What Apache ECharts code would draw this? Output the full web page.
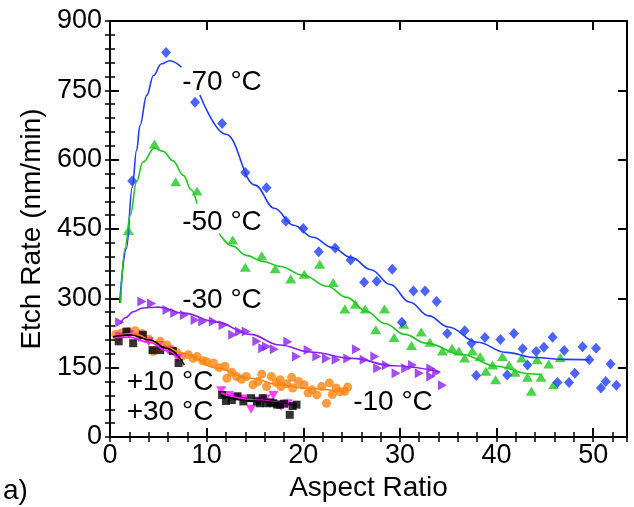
<!DOCTYPE html>
<html><head><meta charset="utf-8">
<script src="https://cdn.jsdelivr.net/npm/echarts@6/dist/echarts.min.js"></script>
<style>html,body{margin:0;padding:0;background:#fff}#c{width:634px;height:507px}</style>
</head><body><div id="c"></div>
<script>
// ---- data (Aspect Ratio, Etch Rate nm/min) ----
const xTicks = [0, 10, 20, 30, 40, 50];
const yTicks = [0, 150, 300, 450, 600, 750, 900];

const m70Points = [[2.3,554],[5.8,832],[8.8,724],[11.6,678],[14.0,572],[16.2,539],[18.2,467],[20.0,451],[21.6,401],[23.3,409],[24.9,383],[26.3,335],[27.6,337],[29.2,363],[30.2,248],[31.4,316],[32.6,316],[33.8,293],[34.9,224],[36.7,230],[37.4,203],[37.9,133],[38.8,215],[40.4,211],[41.1,134],[41.8,224],[42.7,191],[43.2,156],[44.1,185],[44.9,194],[45.8,216],[46.3,118],[47.0,187],[47.5,118],[48.1,138],[48.9,195],[49.6,167],[50.3,192],[50.8,106],[51.3,120],[51.8,158],[52.4,112]];
const m70FitA = [[1.0,290],[1.7,408],[2.3,540],[2.75,620],[3.1,674],[3.8,739],[4.5,782],[5.3,807],[6.2,814],[7.4,800]];
const m70FitB = [[9.3,740],[12.0,655],[15.0,545],[17.0,495],[19.0,458],[21.0,432],[23.0,410],[25.0,388],[27.0,362],[29.0,330],[31.0,292],[33.0,262],[35.0,238],[38.0,205],[41.0,183],[44.0,172],[47.0,168],[49.6,167]];

const m50Points = [[1.9,447],[4.6,634],[6.8,552],[9.0,532],[12.7,426],[14.0,367],[15.7,392],[17.1,364],[18.7,342],[20.1,352],[21.7,374],[23.1,334],[24.3,277],[25.4,287],[26.4,277],[27.5,232],[28.4,277],[29.4,215],[30.4,244],[31.2,198],[32.2,227],[33.1,205],[34.4,186],[35.4,192],[36.1,186],[36.7,171],[37.5,186],[38.3,174],[38.9,142],[39.6,156],[39.9,124],[40.6,174],[41.3,156],[41.9,140],[42.6,171],[43.2,129],[43.6,99],[44.2,167],[44.6,129],[45.4,158],[45.9,113],[46.6,172]];
const m50FitA = [[1.1,290],[1.55,408],[2.1,480],[2.75,552],[3.4,595],[4.6,625],[5.5,618],[6.5,598],[7.6,566],[8.4,535],[9.0,505]];
const m50FitB = [[11.3,440],[12.7,413],[14.1,393],[15.8,380],[17.6,369],[20.0,350],[22.5,326],[24.5,302],[26.5,272],[28.5,245],[30.5,222],[32.7,203],[36.5,178],[40.0,153],[43.4,137],[44.7,135]];

const m30Points = [[1.0,248],[3.3,293],[4.3,289],[5.9,275],[6.7,268],[7.7,264],[8.8,253],[9.6,250],[10.7,250],[11.7,242],[12.7,221],[13.4,228],[14.1,228],[15.2,207],[15.8,192],[16.2,196],[17.0,190],[18.4,206],[19.3,174],[20.5,188],[21.4,174],[22.4,170],[23.4,167],[24.6,170],[25.5,190],[26.3,167],[27.4,174],[27.7,149],[28.6,155],[29.6,138],[30.6,149],[31.3,156],[32.0,138],[33.2,131],[33.2,148],[33.8,140],[34.4,112]];
const m30Fit = [[1.1,246],[1.6,258],[2.4,271],[3.4,279],[5.0,281],[7.6,268],[11.0,249],[14.5,222],[17.6,199],[20.7,184],[25.1,170],[29.3,154],[34.1,141]];

const m10Points = [[0.6,222],[1.2,225],[1.9,228],[2.6,230],[3.3,224],[4.0,212],[4.5,185],[5.2,207],[5.9,199],[6.4,188],[6.9,183],[7.4,174],[8.1,178],[8.6,170],[9.0,174],[9.6,165],[10.0,163],[10.7,160],[11.3,150],[11.9,153],[12.1,127],[12.6,140],[13.1,131],[13.6,125],[14.1,131],[14.8,113],[15.3,120],[15.7,136],[16.2,109],[16.7,131],[17.2,118],[17.6,124],[17.7,109],[18.3,115],[18.8,129],[18.9,106],[19.5,120],[20.1,113],[20.5,95],[20.9,102],[21.4,91],[21.9,109],[22.4,73],[22.7,117],[23.0,92],[23.4,106],[23.8,98],[24.3,99],[24.6,108]];
const m10Fit = [[0.3,217],[2.4,224],[5.0,203],[7.6,181],[11.0,149],[14.5,127],[17.6,113],[20.5,105],[24.3,97]];

const p10Points = [[0.9,207],[1.7,228],[2.4,203],[3.4,221],[4.4,188],[5.2,188],[6.5,186],[7.1,160],[11.6,91],[12.0,78],[12.6,80],[13.2,88],[13.8,77],[14.6,84],[15.2,77],[15.5,73],[15.8,84],[16.2,73],[16.6,75],[16.9,73],[17.3,70],[17.6,70],[18.0,72],[18.6,48],[18.9,67],[19.3,70]];
const p10FitA = [[0.3,217],[2.1,221],[4.1,210],[5.9,192],[7.7,156]];
const p10FitB = [[11.5,90],[15.0,78],[19.3,68]];

const p30Points = [[1.0,217],[2.0,222],[3.0,214],[4.0,206],[5.0,198],[6.0,188],[7.0,170],[11.5,100],[12.3,90],[13.0,86],[13.8,82],[14.6,60],[15.3,78],[16.1,82],[16.9,90],[17.7,66],[18.4,72]];
const p30FitA = [[0.3,215],[2.0,216],[4.0,205],[6.0,186],[7.5,162]];
const p30FitB = [[11.5,95],[15.0,80],[18.5,70]];

const seriesLabels = ['-70 °C', '-50 °C', '-30 °C', '+10 °C', '+30 °C', '-10 °C'];

// ---- chart ----
const FONT = "'Liberation Sans', Arial, sans-serif";
const chart = echarts.init(document.getElementById('c'), null, {renderer: 'canvas'});
const G = {left: 110, right: 7, top: 21, bottom: 70};

function majorAxis(extra) {
  return Object.assign({
    type: 'value',
    axisLine: {show: true, onZero: false, lineStyle: {color: '#000', width: 2}},
    axisTick: {show: true, inside: true, length: 9, lineStyle: {color: '#000', width: 2}},
    splitLine: {show: false},
    axisLabel: {show: false}
  }, extra);
}
function minorAxis(extra) {
  return Object.assign({
    type: 'value', gridIndex: 1,
    axisLine: {show: false},
    axisTick: {show: true, inside: true, length: 5, lineStyle: {color: '#000', width: 1.5}},
    splitLine: {show: false},
    axisLabel: {show: false}
  }, extra);
}
const labelStyle = {show: true, color: '#000', fontSize: 27, fontFamily: FONT};

function pts(data, color, symbol, size, rotate) {
  return {type: 'scatter', data: data, symbol: symbol, symbolSize: size, symbolRotate: rotate || 0,
    itemStyle: {color: color}, z: 3, animation: false};
}
function fit(data, color) {
  return {type: 'line', data: data, showSymbol: false, smooth: 0.4, smoothMonotone: 'x',
    lineStyle: {color: color, width: 1.6}, z: 4, animation: false, silent: true};
}

const C = {m70: '#1f3dff', m50: '#1fc81f', m30: '#8c1ff0', m10: '#ff8412', p10: '#000000', p30: '#ff14ff'};

chart.setOption({
  backgroundColor: '#fff',
  animation: false,
  grid: [Object.assign({}, G), Object.assign({}, G)],
  xAxis: [
    majorAxis({position: 'bottom', min: 0, max: 53.5, interval: 10,
      axisLabel: Object.assign({}, labelStyle, {margin: 5, showMaxLabel: false,
        formatter: v => (xTicks.indexOf(v) >= 0 ? String(v) : '')}),
      name: 'Aspect Ratio', nameLocation: 'middle', nameGap: 33,
      nameTextStyle: {color: '#000', fontSize: 28, fontFamily: FONT}}),
    majorAxis({position: 'top', min: 0, max: 53.5, interval: 10}),
    minorAxis({position: 'bottom', min: 0, max: 53.5, interval: 2}),
    minorAxis({position: 'top', min: 0, max: 53.5, interval: 2})
  ],
  yAxis: [
    majorAxis({position: 'left', min: 0, max: 900, interval: 150,
      axisLabel: Object.assign({}, labelStyle, {margin: 8,
        formatter: v => (yTicks.indexOf(v) >= 0 ? String(v) : '')}),
      name: 'Etch Rate (nm/min)', nameLocation: 'middle', nameGap: 60,
      nameTextStyle: {color: '#000', fontSize: 28, fontFamily: FONT}}),
    majorAxis({position: 'right', min: 0, max: 900, interval: 150}),
    minorAxis({position: 'left', min: 0, max: 900, interval: 30}),
    minorAxis({position: 'right', min: 0, max: 900, interval: 30})
  ],
  series: [
    pts(m10Points, C.m10, 'circle', 9),
    pts(m30Points, C.m30, 'triangle', [10, 9], -90),
    pts(m50Points, C.m50, 'triangle', [11, 9]),
    pts(m70Points, C.m70, 'diamond', [10, 11]),
    pts(p30Points, C.p30, 'triangle', [10, 9], 180),
    pts(p10Points, C.p10, 'rect', 8),
    fit(m70FitA, C.m70), fit(m70FitB, C.m70),
    fit(m50FitA, C.m50), fit(m50FitB, C.m50),
    fit(m30Fit, C.m30), fit(m10Fit, C.m10),
    fit(p30FitA, C.p30), fit(p30FitB, C.p30),
    fit(p10FitA, C.p10), fit(p10FitB, C.p10)
  ],
  graphic: [
    {x: 222, y: 82, label: 0}, {x: 222, y: 222, label: 1}, {x: 222, y: 300, label: 2},
    {x: 170, y: 382, label: 3}, {x: 170, y: 412, label: 4}, {x: 393, y: 402, label: 5}
  ].map(p => ({type: 'text', x: p.x, y: p.y, z: 10,
      style: {text: seriesLabels[p.label], fill: '#000', font: '28px ' + FONT, textAlign: 'center', textVerticalAlign: 'middle'}}))
    .concat([{type: 'text', left: 3, top: 477, style: {text: 'a)', fill: '#000', font: '28px ' + FONT}}])
});
</script>
</body></html>
